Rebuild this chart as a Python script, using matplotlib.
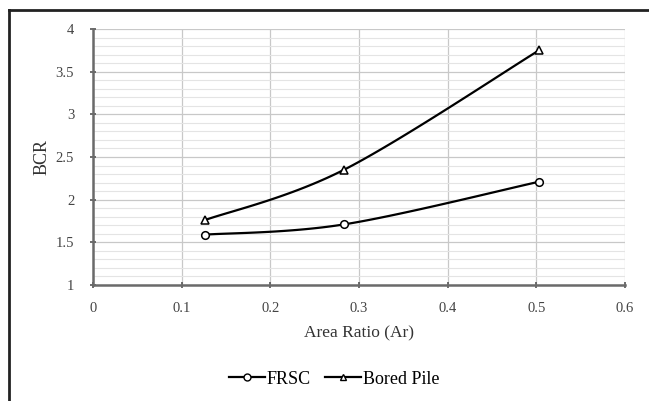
import matplotlib
matplotlib.use("Agg")
import matplotlib.pyplot as plt
import numpy as np
from matplotlib.lines import Line2D

plt.rcParams['font.family'] = ['Liberation Serif', 'DejaVu Serif']

# Area ratio and bearing capacity ratio values
area_ratio = [0.126, 0.283, 0.503]
bcr_frsc = [1.59, 1.71, 2.21]
bcr_bored = [1.76, 2.35, 3.75]


def smooth(xs, ys, n=40):
    # Catmull-Rom style Bezier smoothing through the points
    pts = np.column_stack([xs, ys]).astype(float)
    ext = np.vstack([pts[0], pts, pts[-1]])
    out = []
    t = np.linspace(0, 1, n)[:, None]
    for i in range(1, len(ext) - 2):
        p0, p1, p2, p3 = ext[i - 1], ext[i], ext[i + 1], ext[i + 2]
        c1 = p1 + (p2 - p0) / 6
        c2 = p2 - (p3 - p1) / 6
        seg = ((1 - t) ** 3) * p1 + 3 * ((1 - t) ** 2) * t * c1 + 3 * (1 - t) * t ** 2 * c2 + t ** 3 * p2
        out.append(seg if i == 1 else seg[1:])
    out = np.vstack(out)
    return out[:, 0], out[:, 1]


fig = plt.figure(figsize=(6.49, 4.01), dpi=100)
ax = fig.add_axes([93 / 649, 1 - 285 / 401, 532 / 649, 256 / 401])

ax.set_xlim(0, 0.6)
ax.set_ylim(1, 4)
ax.set_xticks(np.arange(0, 0.61, 0.1))
ax.set_yticks(np.arange(1, 4.01, 0.5))
ax.set_yticks(np.arange(1, 4.01, 0.1), minor=True)
ax.set_xticklabels(['0', '0.1', '0.2', '0.3', '0.4', '0.5', '0.6'])
ax.set_yticklabels(['1', '1.5', '2', '2.5', '3', '3.5', '4'])

ax.grid(True, which='major', axis='both', color='#c8c8c8', lw=0.9)
ax.grid(True, which='minor', axis='y', color='#e4e4e4', lw=0.8)
ax.tick_params(which='minor', length=0)
ax.tick_params(which='major', direction='inout', length=5, width=1.2, color='#555555',
               labelsize=10.5, labelcolor='#444444')
ax.tick_params(axis='y', pad=11)
ax.tick_params(axis='x', pad=10)
ax.set_axisbelow(True)

for s in ['top', 'right']:
    ax.spines[s].set_visible(False)
for s in ['left', 'bottom']:
    ax.spines[s].set_color('#6a6a6a')
    ax.spines[s].set_linewidth(1.8)

for ys, mk in [(bcr_frsc, 'o'), (bcr_bored, '^')]:
    sx, sy = smooth(area_ratio, ys)
    ax.plot(sx, sy, color='black', lw=1.6, zorder=3)
    ax.plot(area_ratio, ys, ls='none', marker=mk, ms=5.5, mfc='white',
            mec='black', mew=1.1, zorder=4)

ax.set_xlabel('Area Ratio (Ar)', fontsize=12.5, color='#333333', labelpad=7)
ax.set_ylabel('BCR', fontsize=13, color='#333333', labelpad=4)

handles = [
    Line2D([], [], color='black', lw=1.6, marker='o', ms=5, mfc='white', mec='black'),
    Line2D([], [], color='black', lw=1.6, marker='^', ms=5, mfc='white', mec='black'),
]
fig.legend(handles, ['FRSC', 'Bored Pile'], loc='center', bbox_to_anchor=(0.515, 1 - 379 / 401),
           ncol=2, frameon=False, fontsize=13, handlelength=2.0, handletextpad=0.1,
           columnspacing=0.8)

# frame around the figure (left and top edges visible)
fig.add_artist(Line2D([9 / 649, 9 / 649], [0, 1 - 10 / 401], transform=fig.transFigure,
                      color='#222222', lw=2))
fig.add_artist(Line2D([9 / 649, 1], [1 - 10 / 401, 1 - 10 / 401], transform=fig.transFigure,
                      color='#222222', lw=2))

fig.savefig('out.png', dpi=100)
